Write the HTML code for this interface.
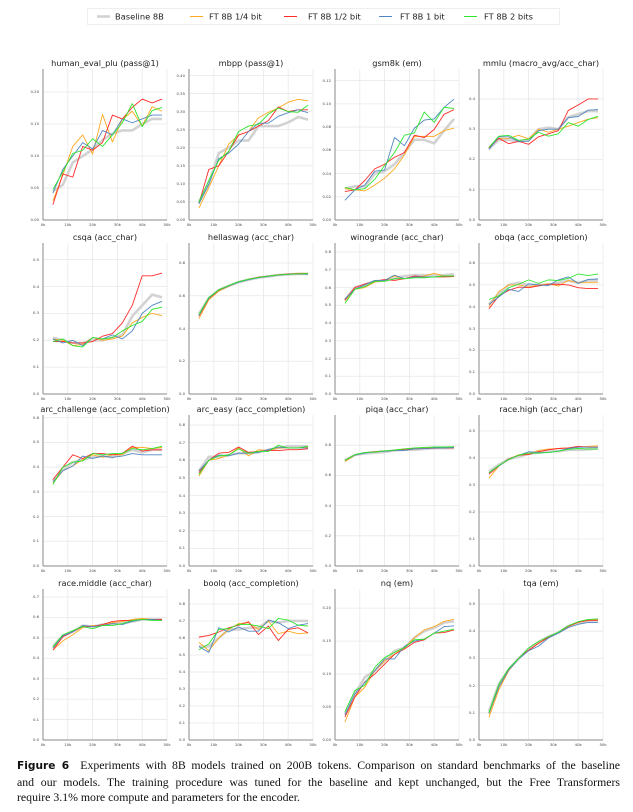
<!DOCTYPE html>
<html><head><meta charset="utf-8"><style>
html,body{margin:0;padding:0;background:#fff;width:633px;height:812px;overflow:hidden}
svg{position:absolute;left:0;top:0}
polyline,line{fill:none;vector-effect:non-scaling-stroke}
polyline{stroke-width:0.9;stroke-linejoin:round}
.b{stroke:#d2d2d2;stroke-width:2.6}
.o{stroke:#ffa820}.r{stroke:#ff2a2a}.u{stroke:#5087c0}.g{stroke:#2ee62e}
.gr{stroke:#e8e8e8;stroke-width:0.8}
.sp{stroke:#8a8a8a;stroke-width:1}
.t{font-family:"DejaVu Sans","Liberation Sans",sans-serif;font-size:8.2px;fill:#222;text-anchor:middle}
.yl{font-family:"DejaVu Sans",sans-serif;font-size:3.8px;fill:#444;text-anchor:end}
.xl{font-family:"DejaVu Sans",sans-serif;font-size:3.8px;fill:#444;text-anchor:middle}
.lg{font-family:"DejaVu Sans","Liberation Sans",sans-serif;font-size:8.3px;fill:#222}
#cap{position:absolute;left:17px;top:758px;width:603px;font-family:"Liberation Serif",serif;font-size:11.8px;line-height:15.5px;color:#111}
#cap div{white-space:nowrap}
#cap .j{text-align:justify;text-align-last:justify}
#cap b{font-family:"DejaVu Sans","Liberation Sans",sans-serif;font-size:10.6px}
</style></head><body>
<svg width="633" height="812" viewBox="0 0 633 812">
<defs>
<g id="xt">
<text class="xl" x="0" y="0">0k</text><text class="xl" x="24.8" y="0">10k</text><text class="xl" x="49.6" y="0">20k</text><text class="xl" x="74.4" y="0">30k</text><text class="xl" x="99.2" y="0">40k</text><text class="xl" x="124" y="0">50k</text>
</g>
<g id="vg" class="gr"><line x1="24.8" y1="0" x2="24.8" y2="151"/><line x1="49.6" y1="0" x2="49.6" y2="151"/><line x1="74.4" y1="0" x2="74.4" y2="151"/><line x1="99.2" y1="0" x2="99.2" y2="151"/><line x1="124" y1="0" x2="124" y2="151"/></g>
</defs>
<rect x="87.5" y="8.5" width="472" height="16" fill="#fff" stroke="#eee"/>
<line x1="97" y1="16.5" x2="110" y2="16.5" stroke="#d2d2d2" stroke-width="2.6"/>
<text class="lg" x="115" y="19.5">Baseline 8B</text>
<line x1="190" y1="16.5" x2="203" y2="16.5" stroke="#ffa820" stroke-width="1"/>
<text class="lg" x="209" y="19.5">FT 8B 1/4 bit</text>
<line x1="284" y1="16.5" x2="297" y2="16.5" stroke="#ff2a2a" stroke-width="1"/>
<text class="lg" x="308" y="19.5">FT 8B 1/2 bit</text>
<line x1="379" y1="16.5" x2="392" y2="16.5" stroke="#5087c0" stroke-width="1"/>
<text class="lg" x="400" y="19.5">FT 8B 1 bit</text>
<line x1="464" y1="16.5" x2="477" y2="16.5" stroke="#2ee62e" stroke-width="1"/>
<text class="lg" x="484" y="19.5">FT 8B 2 bits</text>

<text class="t" x="105" y="66">human_eval_plu (pass@1)</text>
<text class="t" x="251" y="66">mbpp (pass@1)</text>
<text class="t" x="397" y="66">gsm8k (em)</text>
<text class="t" x="541" y="66">mmlu (macro_avg/acc_char)</text>
<text class="t" x="105" y="240">csqa (acc_char)</text>
<text class="t" x="251" y="240">hellaswag (acc_char)</text>
<text class="t" x="397" y="240">winogrande (acc_char)</text>
<text class="t" x="541" y="240">obqa (acc_completion)</text>
<text class="t" x="105" y="412">arc_challenge (acc_completion)</text>
<text class="t" x="251" y="412">arc_easy (acc_completion)</text>
<text class="t" x="397" y="412">piqa (acc_char)</text>
<text class="t" x="541" y="412">race.high (acc_char)</text>
<text class="t" x="105" y="586">race.middle (acc_char)</text>
<text class="t" x="251" y="586">boolq (acc_completion)</text>
<text class="t" x="397" y="586">nq (em)</text>
<text class="t" x="541" y="586">tqa (em)</text>

<use href="#xt" x="43" y="226"/><use href="#xt" x="189" y="226"/><use href="#xt" x="335" y="226"/><use href="#xt" x="479" y="226"/>
<use href="#xt" x="43" y="400"/><use href="#xt" x="189" y="400"/><use href="#xt" x="335" y="400"/><use href="#xt" x="479" y="400"/>
<use href="#xt" x="43" y="572"/><use href="#xt" x="189" y="572"/><use href="#xt" x="335" y="572"/><use href="#xt" x="479" y="572"/>
<use href="#xt" x="43" y="746"/><use href="#xt" x="189" y="746"/><use href="#xt" x="335" y="746"/><use href="#xt" x="479" y="746"/>

<g class="yl">
<text x="39" y="221">0.00</text><text x="39" y="189">0.05</text><text x="39" y="157">0.10</text><text x="39" y="125">0.15</text><text x="39" y="93">0.20</text>
<text x="185" y="221">0.00</text><text x="185" y="203">0.05</text><text x="185" y="185">0.10</text><text x="185" y="167">0.15</text><text x="185" y="149">0.20</text><text x="185" y="131">0.25</text><text x="185" y="113">0.30</text><text x="185" y="95">0.35</text><text x="185" y="77">0.40</text>
<text x="331" y="221">0.00</text><text x="331" y="198">0.02</text><text x="331" y="175">0.04</text><text x="331" y="151">0.06</text><text x="331" y="128">0.08</text><text x="331" y="105">0.10</text><text x="331" y="82">0.12</text>
<text x="475" y="221">0.0</text><text x="475" y="191">0.1</text><text x="475" y="160">0.2</text><text x="475" y="130">0.3</text><text x="475" y="100">0.4</text>
<text x="39" y="395">0.0</text><text x="39" y="368">0.1</text><text x="39" y="341">0.2</text><text x="39" y="314">0.3</text><text x="39" y="288">0.4</text><text x="39" y="261">0.5</text>
<text x="185" y="395">0.0</text><text x="185" y="362">0.2</text><text x="185" y="330">0.4</text><text x="185" y="297">0.6</text><text x="185" y="264">0.8</text>
<text x="331" y="395">0.0</text><text x="331" y="377">0.1</text><text x="331" y="360">0.2</text><text x="331" y="342">0.3</text><text x="331" y="324">0.4</text><text x="331" y="306">0.5</text><text x="331" y="289">0.6</text><text x="331" y="271">0.7</text><text x="331" y="253">0.8</text>
<text x="475" y="395">0.0</text><text x="475" y="373">0.1</text><text x="475" y="351">0.2</text><text x="475" y="330">0.3</text><text x="475" y="308">0.4</text><text x="475" y="286">0.5</text><text x="475" y="264">0.6</text>
<text x="39" y="567">0.0</text><text x="39" y="542">0.1</text><text x="39" y="518">0.2</text><text x="39" y="493">0.3</text><text x="39" y="468">0.4</text><text x="39" y="443">0.5</text><text x="39" y="419">0.6</text>
<text x="185" y="567">0.0</text><text x="185" y="549">0.1</text><text x="185" y="532">0.2</text><text x="185" y="514">0.3</text><text x="185" y="497">0.4</text><text x="185" y="479">0.5</text><text x="185" y="461">0.6</text><text x="185" y="444">0.7</text><text x="185" y="426">0.8</text>
<text x="331" y="567">0.0</text><text x="331" y="537">0.2</text><text x="331" y="507">0.4</text><text x="331" y="476">0.6</text><text x="331" y="446">0.8</text>
<text x="475" y="567">0.0</text><text x="475" y="540">0.1</text><text x="475" y="513">0.2</text><text x="475" y="486">0.3</text><text x="475" y="459">0.4</text><text x="475" y="432">0.5</text>
<text x="39" y="741">0.0</text><text x="39" y="721">0.1</text><text x="39" y="700">0.2</text><text x="39" y="680">0.3</text><text x="39" y="659">0.4</text><text x="39" y="639">0.5</text><text x="39" y="618">0.6</text><text x="39" y="598">0.7</text>
<text x="185" y="741">0.0</text><text x="185" y="724">0.1</text><text x="185" y="707">0.2</text><text x="185" y="690">0.3</text><text x="185" y="673">0.4</text><text x="185" y="656">0.5</text><text x="185" y="639">0.6</text><text x="185" y="622">0.7</text><text x="185" y="605">0.8</text>
<text x="331" y="741">0.00</text><text x="331" y="708">0.05</text><text x="331" y="675">0.10</text><text x="331" y="642">0.15</text><text x="331" y="609">0.20</text>
<text x="475" y="741">0.0</text><text x="475" y="714">0.1</text><text x="475" y="687">0.2</text><text x="475" y="659">0.3</text><text x="475" y="632">0.4</text><text x="475" y="605">0.5</text>
</g>

<use href="#vg" x="43" y="69"/><use href="#vg" x="189" y="69"/><use href="#vg" x="335" y="69"/><use href="#vg" x="479" y="69"/>
<use href="#vg" x="43" y="243"/><use href="#vg" x="189" y="243"/><use href="#vg" x="335" y="243"/><use href="#vg" x="479" y="243"/>
<use href="#vg" x="43" y="415"/><use href="#vg" x="189" y="415"/><use href="#vg" x="335" y="415"/><use href="#vg" x="479" y="415"/>
<use href="#vg" x="43" y="589"/><use href="#vg" x="189" y="589"/><use href="#vg" x="335" y="589"/><use href="#vg" x="479" y="589"/>

<svg x="43" y="69" width="124" height="151" viewBox="0 -0.236 50 0.236" preserveAspectRatio="none" overflow="visible">
<line class="gr" x1="0" y1="-.05" x2="50" y2="-.05"/><line class="gr" x1="0" y1="-.1" x2="50" y2="-.1"/><line class="gr" x1="0" y1="-.15" x2="50" y2="-.15"/><line class="gr" x1="0" y1="-.2" x2="50" y2="-.2"/>
<polyline class="b" points="4,-.045 8,-.055 12,-.09 16,-.1 20,-.11 24,-.125 28,-.135 32,-.14 36,-.14 40,-.15 44,-.158 48,-.158"/>
<polyline class="o" points="4,-.03 8,-.07 12,-.115 16,-.133 20,-.103 24,-.165 28,-.122 32,-.157 36,-.17 40,-.147 44,-.177 48,-.17"/>
<polyline class="r" points="4,-.024 8,-.072 12,-.067 16,-.115 20,-.109 24,-.121 28,-.164 32,-.158 36,-.176 40,-.189 44,-.183 48,-.189"/>
<polyline class="u" points="4,-.042 8,-.079 12,-.1 16,-.121 20,-.111 24,-.14 28,-.133 32,-.158 36,-.152 40,-.158 44,-.164 48,-.164"/>
<polyline class="g" points="4,-.048 8,-.075 12,-.104 16,-.109 20,-.127 24,-.115 28,-.133 32,-.152 36,-.182 40,-.146 44,-.171 48,-.176"/>
<line class="sp" x1="0" y1="0" x2="0" y2="-.236"/><line class="sp" x1="0" y1="0" x2="50" y2="0"/>
</svg>
<svg x="189" y="69" width="124" height="151" viewBox="0 -0.418 50 0.418" preserveAspectRatio="none" overflow="visible">
<line class="gr" x1="0" y1="-.05" x2="50" y2="-.05"/><line class="gr" x1="0" y1="-.1" x2="50" y2="-.1"/><line class="gr" x1="0" y1="-.15" x2="50" y2="-.15"/><line class="gr" x1="0" y1="-.2" x2="50" y2="-.2"/><line class="gr" x1="0" y1="-.25" x2="50" y2="-.25"/><line class="gr" x1="0" y1="-.3" x2="50" y2="-.3"/><line class="gr" x1="0" y1="-.35" x2="50" y2="-.35"/><line class="gr" x1="0" y1="-.4" x2="50" y2="-.4"/>
<polyline class="b" points="4,-.05 8,-.1 12,-.185 16,-.2 20,-.22 24,-.22 28,-.26 32,-.26 36,-.26 40,-.27 44,-.285 48,-.278"/>
<polyline class="o" points="4,-.033 8,-.09 12,-.15 16,-.21 20,-.235 24,-.245 28,-.283 32,-.298 36,-.31 40,-.326 44,-.334 48,-.33"/>
<polyline class="r" points="4,-.045 8,-.14 12,-.15 16,-.19 20,-.235 24,-.245 28,-.26 32,-.275 36,-.313 40,-.3 44,-.305 48,-.305"/>
<polyline class="u" points="4,-.045 8,-.1 12,-.17 16,-.185 20,-.21 24,-.245 28,-.268 32,-.268 36,-.287 40,-.297 44,-.305 48,-.297"/>
<polyline class="g" points="4,-.05 8,-.11 12,-.165 16,-.19 20,-.245 24,-.26 28,-.265 32,-.293 36,-.31 40,-.3 44,-.298 48,-.318"/>
<line class="sp" x1="0" y1="0" x2="0" y2="-.418"/><line class="sp" x1="0" y1="0" x2="50" y2="0"/>
</svg>
<svg x="335" y="69" width="124" height="151" viewBox="0 -0.13 50 0.13" preserveAspectRatio="none" overflow="visible">
<line class="gr" x1="0" y1="-.02" x2="50" y2="-.02"/><line class="gr" x1="0" y1="-.04" x2="50" y2="-.04"/><line class="gr" x1="0" y1="-.06" x2="50" y2="-.06"/><line class="gr" x1="0" y1="-.08" x2="50" y2="-.08"/><line class="gr" x1="0" y1="-.1" x2="50" y2="-.1"/><line class="gr" x1="0" y1="-.12" x2="50" y2="-.12"/>
<polyline class="b" points="4,-.027 8,-.029 12,-.029 16,-.04 20,-.042 24,-.048 28,-.058 32,-.069 36,-.069 40,-.066 44,-.077 48,-.087"/>
<polyline class="o" points="4,-.027 8,-.026 12,-.025 16,-.030 20,-.036 24,-.044 28,-.056 32,-.072 36,-.072 40,-.072 44,-.077 48,-.079"/>
<polyline class="r" points="4,-.0245 8,-.026 12,-.034 16,-.044 20,-.048 24,-.054 28,-.058 32,-.073 36,-.071 40,-.078 44,-.091 48,-.095"/>
<polyline class="u" points="4,-.017 8,-.026 12,-.03 16,-.042 20,-.043 24,-.071 28,-.064 32,-.079 36,-.086 40,-.087 44,-.097 48,-.104"/>
<polyline class="g" points="4,-.028 8,-.026 12,-.027 16,-.035 20,-.047 24,-.058 28,-.073 32,-.075 36,-.093 40,-.084 44,-.097 48,-.096"/>
<line class="sp" x1="0" y1="0" x2="0" y2="-.13"/><line class="sp" x1="0" y1="0" x2="50" y2="0"/>
</svg>
<svg x="479" y="69" width="124" height="151" viewBox="0 -0.499 50 0.499" preserveAspectRatio="none" overflow="visible">
<line class="gr" x1="0" y1="-.1" x2="50" y2="-.1"/><line class="gr" x1="0" y1="-.2" x2="50" y2="-.2"/><line class="gr" x1="0" y1="-.3" x2="50" y2="-.3"/><line class="gr" x1="0" y1="-.4" x2="50" y2="-.4"/>
<polyline class="b" points="4,-.235 8,-.265 12,-.265 16,-.26 20,-.265 24,-.3 28,-.305 32,-.3 36,-.34 40,-.35 44,-.36 48,-.36"/>
<polyline class="o" points="4,-.24 8,-.27 12,-.27 16,-.28 20,-.268 24,-.3 28,-.29 32,-.3 36,-.31 40,-.322 44,-.333 48,-.338"/>
<polyline class="r" points="4,-.238 8,-.27 12,-.252 16,-.26 20,-.25 24,-.275 28,-.285 32,-.295 36,-.362 40,-.38 44,-.4 48,-.4"/>
<polyline class="u" points="4,-.233 8,-.275 12,-.275 16,-.26 20,-.26 24,-.295 28,-.3 32,-.3 36,-.338 40,-.342 44,-.363 48,-.365"/>
<polyline class="g" points="4,-.24 8,-.277 12,-.28 16,-.263 20,-.267 24,-.29 28,-.277 32,-.285 36,-.322 40,-.31 44,-.332 48,-.343"/>
<line class="sp" x1="0" y1="0" x2="0" y2="-.499"/><line class="sp" x1="0" y1="0" x2="50" y2="0"/>
</svg>
<svg x="43" y="243" width="124" height="151" viewBox="0 -0.562 50 0.562" preserveAspectRatio="none" overflow="visible">
<line class="gr" x1="0" y1="-.1" x2="50" y2="-.1"/><line class="gr" x1="0" y1="-.2" x2="50" y2="-.2"/><line class="gr" x1="0" y1="-.3" x2="50" y2="-.3"/><line class="gr" x1="0" y1="-.4" x2="50" y2="-.4"/><line class="gr" x1="0" y1="-.5" x2="50" y2="-.5"/>
<polyline class="b" points="4,-.21 8,-.2 12,-.19 16,-.19 20,-.2 24,-.2 28,-.21 32,-.22 36,-.29 40,-.33 44,-.37 48,-.36"/>
<polyline class="o" points="4,-.205 8,-.2 12,-.18 16,-.185 20,-.21 24,-.2 28,-.205 32,-.215 36,-.265 40,-.285 44,-.3 48,-.292"/>
<polyline class="r" points="4,-.195 8,-.195 12,-.19 16,-.19 20,-.195 24,-.215 28,-.225 32,-.265 36,-.33 40,-.44 44,-.44 48,-.45"/>
<polyline class="u" points="4,-.205 8,-.19 12,-.2 16,-.18 20,-.21 24,-.205 28,-.22 32,-.205 36,-.235 40,-.3 44,-.33 48,-.345"/>
<polyline class="g" points="4,-.195 8,-.205 12,-.18 16,-.175 20,-.21 24,-.205 28,-.21 32,-.235 36,-.255 40,-.27 44,-.315 48,-.323"/>
<line class="sp" x1="0" y1="0" x2="0" y2="-.562"/><line class="sp" x1="0" y1="0" x2="50" y2="0"/>
</svg>
<svg x="189" y="243" width="124" height="151" viewBox="0 -0.922 50 0.922" preserveAspectRatio="none" overflow="visible">
<line class="gr" x1="0" y1="-.2" x2="50" y2="-.2"/><line class="gr" x1="0" y1="-.4" x2="50" y2="-.4"/><line class="gr" x1="0" y1="-.6" x2="50" y2="-.6"/><line class="gr" x1="0" y1="-.8" x2="50" y2="-.8"/>
<polyline class="b" points="4,-.49 8,-.585 12,-.635 16,-.66 20,-.683 24,-.698 28,-.71 32,-.718 36,-.726 40,-.73 44,-.733 48,-.733"/>
<polyline class="o" points="4,-.46 8,-.575 12,-.628 16,-.658 20,-.685 24,-.7 28,-.712 32,-.72 36,-.728 40,-.732 44,-.737 48,-.737"/>
<polyline class="r" points="4,-.475 8,-.583 12,-.633 16,-.66 20,-.685 24,-.7 28,-.713 32,-.72 36,-.728 40,-.732 44,-.735 48,-.736"/>
<polyline class="u" points="4,-.48 8,-.585 12,-.635 16,-.66 20,-.683 24,-.698 28,-.71 32,-.718 36,-.726 40,-.73 44,-.733 48,-.732"/>
<polyline class="g" points="4,-.485 8,-.59 12,-.636 16,-.662 20,-.686 24,-.7 28,-.712 32,-.72 36,-.727 40,-.731 44,-.734 48,-.735"/>
<line class="sp" x1="0" y1="0" x2="0" y2="-.922"/><line class="sp" x1="0" y1="0" x2="50" y2="0"/>
</svg>
<svg x="335" y="243" width="124" height="151" viewBox="0 -0.851 50 0.851" preserveAspectRatio="none" overflow="visible">
<line class="gr" x1="0" y1="-.1" x2="50" y2="-.1"/><line class="gr" x1="0" y1="-.2" x2="50" y2="-.2"/><line class="gr" x1="0" y1="-.3" x2="50" y2="-.3"/><line class="gr" x1="0" y1="-.4" x2="50" y2="-.4"/><line class="gr" x1="0" y1="-.5" x2="50" y2="-.5"/><line class="gr" x1="0" y1="-.6" x2="50" y2="-.6"/><line class="gr" x1="0" y1="-.7" x2="50" y2="-.7"/><line class="gr" x1="0" y1="-.8" x2="50" y2="-.8"/>
<polyline class="b" points="4,-.53 8,-.6 12,-.615 16,-.635 20,-.64 24,-.65 28,-.665 32,-.67 36,-.67 40,-.67 44,-.67 48,-.675"/>
<polyline class="o" points="4,-.525 8,-.59 12,-.6 16,-.63 20,-.64 24,-.665 28,-.65 32,-.66 36,-.665 40,-.68 44,-.665 48,-.665"/>
<polyline class="r" points="4,-.53 8,-.6 12,-.62 16,-.635 20,-.645 24,-.64 28,-.65 32,-.665 36,-.66 40,-.66 44,-.66 48,-.662"/>
<polyline class="u" points="4,-.535 8,-.59 12,-.615 16,-.64 20,-.64 24,-.67 28,-.65 32,-.66 36,-.66 40,-.66 44,-.665 48,-.665"/>
<polyline class="g" points="4,-.51 8,-.59 12,-.605 16,-.635 20,-.635 24,-.65 28,-.65 32,-.655 36,-.655 40,-.66 44,-.665 48,-.665"/>
<line class="sp" x1="0" y1="0" x2="0" y2="-.851"/><line class="sp" x1="0" y1="0" x2="50" y2="0"/>
</svg>
<svg x="479" y="243" width="124" height="151" viewBox="0 -0.692 50 0.692" preserveAspectRatio="none" overflow="visible">
<line class="gr" x1="0" y1="-.1" x2="50" y2="-.1"/><line class="gr" x1="0" y1="-.2" x2="50" y2="-.2"/><line class="gr" x1="0" y1="-.3" x2="50" y2="-.3"/><line class="gr" x1="0" y1="-.4" x2="50" y2="-.4"/><line class="gr" x1="0" y1="-.5" x2="50" y2="-.5"/><line class="gr" x1="0" y1="-.6" x2="50" y2="-.6"/>
<polyline class="b" points="4,-.41 8,-.46 12,-.5 16,-.51 20,-.5 24,-.5 28,-.5 32,-.51 36,-.52 40,-.51 44,-.52 48,-.52"/>
<polyline class="o" points="4,-.4 8,-.47 12,-.5 16,-.5 20,-.49 24,-.5 28,-.505 32,-.495 36,-.52 40,-.51 44,-.51 48,-.51"/>
<polyline class="r" points="4,-.39 8,-.45 12,-.475 16,-.49 20,-.487 24,-.495 28,-.503 32,-.503 36,-.5 40,-.487 44,-.483 48,-.483"/>
<polyline class="u" points="4,-.41 8,-.445 12,-.48 16,-.47 20,-.505 24,-.5 28,-.498 32,-.523 36,-.537 40,-.507 44,-.525 48,-.527"/>
<polyline class="g" points="4,-.433 8,-.45 12,-.487 16,-.503 20,-.523 24,-.507 28,-.523 32,-.52 36,-.53 40,-.55 44,-.543 48,-.55"/>
<line class="sp" x1="0" y1="0" x2="0" y2="-.692"/><line class="sp" x1="0" y1="0" x2="50" y2="0"/>
</svg>
<svg x="43" y="415" width="124" height="151" viewBox="0 -0.611 50 0.611" preserveAspectRatio="none" overflow="visible">
<line class="gr" x1="0" y1="-.1" x2="50" y2="-.1"/><line class="gr" x1="0" y1="-.2" x2="50" y2="-.2"/><line class="gr" x1="0" y1="-.3" x2="50" y2="-.3"/><line class="gr" x1="0" y1="-.4" x2="50" y2="-.4"/><line class="gr" x1="0" y1="-.5" x2="50" y2="-.5"/><line class="gr" x1="0" y1="-.6" x2="50" y2="-.6"/>
<polyline class="b" points="4,-.345 8,-.39 12,-.42 16,-.43 20,-.44 24,-.445 28,-.44 32,-.455 36,-.47 40,-.46 44,-.47 48,-.47"/>
<polyline class="o" points="4,-.335 8,-.385 12,-.405 16,-.43 20,-.45 24,-.44 28,-.45 32,-.45 36,-.48 40,-.48 44,-.475 48,-.48"/>
<polyline class="r" points="4,-.35 8,-.4 12,-.45 16,-.435 20,-.455 24,-.455 28,-.45 32,-.455 36,-.485 40,-.465 44,-.47 48,-.47"/>
<polyline class="u" points="4,-.34 8,-.385 12,-.405 16,-.445 20,-.435 24,-.445 28,-.44 32,-.445 36,-.455 40,-.45 44,-.45 48,-.45"/>
<polyline class="g" points="4,-.33 8,-.4 12,-.42 16,-.425 20,-.455 24,-.45 28,-.455 32,-.455 36,-.475 40,-.47 44,-.475 48,-.485"/>
<line class="sp" x1="0" y1="0" x2="0" y2="-.611"/><line class="sp" x1="0" y1="0" x2="50" y2="0"/>
</svg>
<svg x="189" y="415" width="124" height="151" viewBox="0 -0.857 50 0.857" preserveAspectRatio="none" overflow="visible">
<line class="gr" x1="0" y1="-.1" x2="50" y2="-.1"/><line class="gr" x1="0" y1="-.2" x2="50" y2="-.2"/><line class="gr" x1="0" y1="-.3" x2="50" y2="-.3"/><line class="gr" x1="0" y1="-.4" x2="50" y2="-.4"/><line class="gr" x1="0" y1="-.5" x2="50" y2="-.5"/><line class="gr" x1="0" y1="-.6" x2="50" y2="-.6"/><line class="gr" x1="0" y1="-.7" x2="50" y2="-.7"/><line class="gr" x1="0" y1="-.8" x2="50" y2="-.8"/>
<polyline class="b" points="4,-.54 8,-.62 12,-.62 16,-.63 20,-.64 24,-.64 28,-.645 32,-.66 36,-.67 40,-.68 44,-.68 48,-.68"/>
<polyline class="o" points="4,-.51 8,-.6 12,-.61 16,-.63 20,-.67 24,-.625 28,-.66 32,-.655 36,-.67 40,-.67 44,-.67 48,-.675"/>
<polyline class="r" points="4,-.53 8,-.6 12,-.64 16,-.645 20,-.675 24,-.645 28,-.65 32,-.655 36,-.655 40,-.66 44,-.66 48,-.665"/>
<polyline class="u" points="4,-.54 8,-.6 12,-.63 16,-.625 20,-.64 24,-.64 28,-.645 32,-.66 36,-.675 40,-.67 44,-.67 48,-.67"/>
<polyline class="g" points="4,-.52 8,-.6 12,-.625 16,-.63 20,-.665 24,-.64 28,-.65 32,-.65 36,-.685 40,-.67 44,-.67 48,-.68"/>
<line class="sp" x1="0" y1="0" x2="0" y2="-.857"/><line class="sp" x1="0" y1="0" x2="50" y2="0"/>
</svg>
<svg x="335" y="415" width="124" height="151" viewBox="0 -1 50 1" preserveAspectRatio="none" overflow="visible">
<line class="gr" x1="0" y1="-.2" x2="50" y2="-.2"/><line class="gr" x1="0" y1="-.4" x2="50" y2="-.4"/><line class="gr" x1="0" y1="-.6" x2="50" y2="-.6"/><line class="gr" x1="0" y1="-.8" x2="50" y2="-.8"/>
<polyline class="b" points="4,-.7 8,-.735 12,-.745 16,-.75 20,-.755 24,-.765 28,-.77 32,-.77 36,-.775 40,-.78 44,-.78 48,-.78"/>
<polyline class="o" points="4,-.69 8,-.735 12,-.75 16,-.755 20,-.76 24,-.768 28,-.775 32,-.78 36,-.785 40,-.785 44,-.785 48,-.788"/>
<polyline class="r" points="4,-.7 8,-.735 12,-.75 16,-.758 20,-.762 24,-.765 28,-.772 32,-.776 36,-.778 40,-.78 44,-.782 48,-.783"/>
<polyline class="u" points="4,-.7 8,-.735 12,-.748 16,-.755 20,-.76 24,-.765 28,-.765 32,-.775 36,-.778 40,-.782 44,-.782 48,-.785"/>
<polyline class="g" points="4,-.7 8,-.737 12,-.752 16,-.755 20,-.763 24,-.768 28,-.775 32,-.782 36,-.785 40,-.788 44,-.788 48,-.79"/>
<line class="sp" x1="0" y1="0" x2="0" y2="-1"/><line class="sp" x1="0" y1="0" x2="50" y2="0"/>
</svg>
<svg x="479" y="415" width="124" height="151" viewBox="0 -0.559 50 0.559" preserveAspectRatio="none" overflow="visible">
<line class="gr" x1="0" y1="-.1" x2="50" y2="-.1"/><line class="gr" x1="0" y1="-.2" x2="50" y2="-.2"/><line class="gr" x1="0" y1="-.3" x2="50" y2="-.3"/><line class="gr" x1="0" y1="-.4" x2="50" y2="-.4"/><line class="gr" x1="0" y1="-.5" x2="50" y2="-.5"/>
<polyline class="b" points="4,-.35 8,-.375 12,-.395 16,-.405 20,-.415 24,-.42 28,-.425 32,-.425 36,-.43 40,-.43 44,-.432 48,-.435"/>
<polyline class="o" points="4,-.325 8,-.37 12,-.395 16,-.412 20,-.415 24,-.428 28,-.433 32,-.435 36,-.437 40,-.44 44,-.443 48,-.445"/>
<polyline class="r" points="4,-.34 8,-.37 12,-.397 16,-.41 20,-.413 24,-.423 28,-.43 32,-.435 36,-.437 40,-.443 44,-.44 48,-.44"/>
<polyline class="u" points="4,-.345 8,-.37 12,-.395 16,-.41 20,-.423 24,-.42 28,-.42 32,-.425 36,-.435 40,-.44 44,-.44 48,-.44"/>
<polyline class="g" points="4,-.345 8,-.372 12,-.395 16,-.41 20,-.418 24,-.418 28,-.42 32,-.425 36,-.432 40,-.435 44,-.433 48,-.433"/>
<line class="sp" x1="0" y1="0" x2="0" y2="-.559"/><line class="sp" x1="0" y1="0" x2="50" y2="0"/>
</svg>
<svg x="43" y="589" width="124" height="151" viewBox="0 -0.739 50 0.739" preserveAspectRatio="none" overflow="visible">
<line class="gr" x1="0" y1="-.1" x2="50" y2="-.1"/><line class="gr" x1="0" y1="-.2" x2="50" y2="-.2"/><line class="gr" x1="0" y1="-.3" x2="50" y2="-.3"/><line class="gr" x1="0" y1="-.4" x2="50" y2="-.4"/><line class="gr" x1="0" y1="-.5" x2="50" y2="-.5"/><line class="gr" x1="0" y1="-.6" x2="50" y2="-.6"/><line class="gr" x1="0" y1="-.7" x2="50" y2="-.7"/>
<polyline class="b" points="4,-.46 8,-.51 12,-.53 16,-.56 20,-.555 24,-.565 28,-.57 32,-.575 36,-.58 40,-.59 44,-.59 48,-.59"/>
<polyline class="o" points="4,-.44 8,-.485 12,-.515 16,-.55 20,-.56 24,-.56 28,-.575 32,-.58 36,-.59 40,-.595 44,-.59 48,-.59"/>
<polyline class="r" points="4,-.44 8,-.505 12,-.53 16,-.555 20,-.555 24,-.565 28,-.58 32,-.585 36,-.585 40,-.59 44,-.59 48,-.59"/>
<polyline class="u" points="4,-.45 8,-.51 12,-.53 16,-.56 20,-.555 24,-.56 28,-.57 32,-.565 36,-.58 40,-.59 44,-.59 48,-.585"/>
<polyline class="g" points="4,-.455 8,-.515 12,-.535 16,-.555 20,-.545 24,-.56 28,-.56 32,-.57 36,-.585 40,-.59 44,-.585 48,-.585"/>
<line class="sp" x1="0" y1="0" x2="0" y2="-.739"/><line class="sp" x1="0" y1="0" x2="50" y2="0"/>
</svg>
<svg x="189" y="589" width="124" height="151" viewBox="0 -0.888 50 0.888" preserveAspectRatio="none" overflow="visible">
<line class="gr" x1="0" y1="-.1" x2="50" y2="-.1"/><line class="gr" x1="0" y1="-.2" x2="50" y2="-.2"/><line class="gr" x1="0" y1="-.3" x2="50" y2="-.3"/><line class="gr" x1="0" y1="-.4" x2="50" y2="-.4"/><line class="gr" x1="0" y1="-.5" x2="50" y2="-.5"/><line class="gr" x1="0" y1="-.6" x2="50" y2="-.6"/><line class="gr" x1="0" y1="-.7" x2="50" y2="-.7"/><line class="gr" x1="0" y1="-.8" x2="50" y2="-.8"/>
<polyline class="b" points="4,-.55 8,-.55 12,-.6 16,-.65 20,-.65 24,-.66 28,-.66 32,-.7 36,-.69 40,-.7 44,-.7 48,-.7"/>
<polyline class="o" points="4,-.575 8,-.525 12,-.6 16,-.65 20,-.685 24,-.69 28,-.65 32,-.7 36,-.625 40,-.64 44,-.625 48,-.63"/>
<polyline class="r" points="4,-.605 8,-.615 12,-.635 16,-.66 20,-.675 24,-.695 28,-.62 32,-.67 36,-.585 40,-.65 44,-.66 48,-.63"/>
<polyline class="u" points="4,-.55 8,-.515 12,-.66 16,-.635 20,-.665 24,-.64 28,-.64 32,-.705 36,-.69 40,-.655 44,-.675 48,-.685"/>
<polyline class="g" points="4,-.53 8,-.565 12,-.65 16,-.655 20,-.68 24,-.68 28,-.67 32,-.655 36,-.715 40,-.705 44,-.675 48,-.67"/>
<line class="sp" x1="0" y1="0" x2="0" y2="-.888"/><line class="sp" x1="0" y1="0" x2="50" y2="0"/>
</svg>
<svg x="335" y="589" width="124" height="151" viewBox="0 -0.229 50 0.229" preserveAspectRatio="none" overflow="visible">
<line class="gr" x1="0" y1="-.05" x2="50" y2="-.05"/><line class="gr" x1="0" y1="-.1" x2="50" y2="-.1"/><line class="gr" x1="0" y1="-.15" x2="50" y2="-.15"/><line class="gr" x1="0" y1="-.2" x2="50" y2="-.2"/>
<polyline class="b" points="4,-.04 8,-.07 12,-.095 16,-.105 20,-.12 24,-.135 28,-.14 32,-.155 36,-.165 40,-.17 44,-.178 48,-.18"/>
<polyline class="o" points="4,-.027 8,-.065 12,-.08 16,-.105 20,-.12 24,-.13 28,-.14 32,-.155 36,-.167 40,-.172 44,-.18 48,-.183"/>
<polyline class="r" points="4,-.035 8,-.065 12,-.088 16,-.1 20,-.115 24,-.13 28,-.138 32,-.148 36,-.152 40,-.162 44,-.163 48,-.167"/>
<polyline class="u" points="4,-.038 8,-.07 12,-.087 16,-.105 20,-.123 24,-.123 28,-.142 32,-.15 36,-.153 40,-.162 44,-.172 48,-.173"/>
<polyline class="g" points="4,-.043 8,-.075 12,-.083 16,-.11 20,-.125 24,-.133 28,-.14 32,-.152 36,-.153 40,-.162 44,-.165 48,-.168"/>
<line class="sp" x1="0" y1="0" x2="0" y2="-.229"/><line class="sp" x1="0" y1="0" x2="50" y2="0"/>
</svg>
<svg x="479" y="589" width="124" height="151" viewBox="0 -0.555 50 0.555" preserveAspectRatio="none" overflow="visible">
<line class="gr" x1="0" y1="-.1" x2="50" y2="-.1"/><line class="gr" x1="0" y1="-.2" x2="50" y2="-.2"/><line class="gr" x1="0" y1="-.3" x2="50" y2="-.3"/><line class="gr" x1="0" y1="-.4" x2="50" y2="-.4"/><line class="gr" x1="0" y1="-.5" x2="50" y2="-.5"/>
<polyline class="b" points="4,-.105 8,-.205 12,-.26 16,-.3 20,-.335 24,-.36 28,-.38 32,-.395 36,-.418 40,-.43 44,-.437 48,-.44"/>
<polyline class="o" points="4,-.083 8,-.185 12,-.255 16,-.3 20,-.33 24,-.355 28,-.378 32,-.395 36,-.418 40,-.432 44,-.44 48,-.442"/>
<polyline class="r" points="4,-.097 8,-.195 12,-.258 16,-.3 20,-.33 24,-.355 28,-.378 32,-.395 36,-.418 40,-.433 44,-.44 48,-.44"/>
<polyline class="u" points="4,-.098 8,-.195 12,-.258 16,-.298 20,-.328 24,-.345 28,-.375 32,-.393 36,-.413 40,-.425 44,-.432 48,-.432"/>
<polyline class="g" points="4,-.1 8,-.205 12,-.263 16,-.3 20,-.338 24,-.362 28,-.38 32,-.396 36,-.42 40,-.435 44,-.443 48,-.445"/>
<line class="sp" x1="0" y1="0" x2="0" y2="-.555"/><line class="sp" x1="0" y1="0" x2="50" y2="0"/>
</svg>
</svg>
<div id="cap">
<div class="j"><b>Figure 6</b>&nbsp; Experiments with 8B models trained on 200B tokens. Comparison on standard benchmarks of the baseline</div>
<div class="j">and our models. The training procedure was tuned for the baseline and kept unchanged, but the Free Transformers</div>
<div>require 3.1% more compute and parameters for the encoder.</div>
</div>
</body></html>
